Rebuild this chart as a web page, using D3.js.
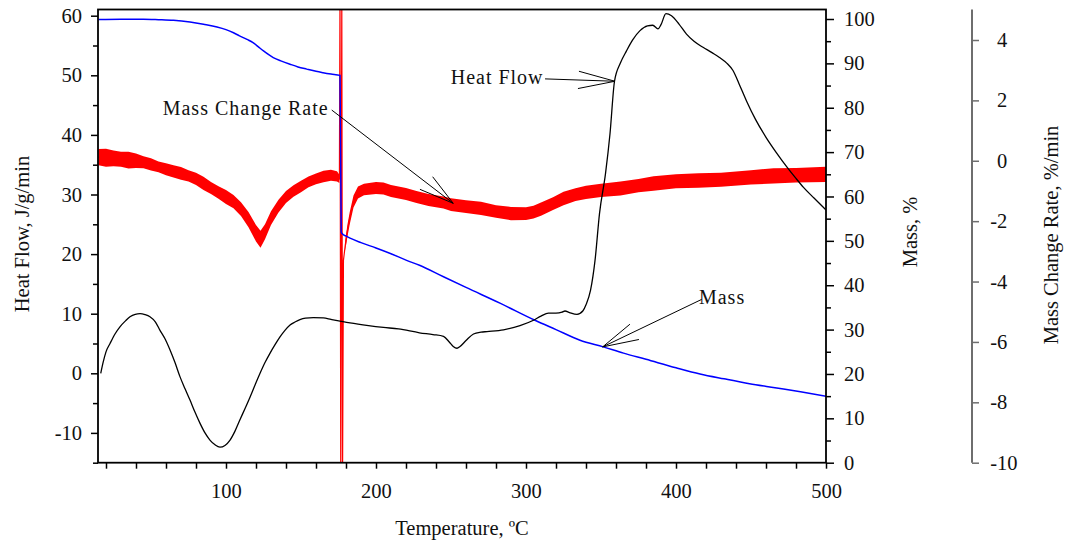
<!DOCTYPE html>
<html><head><meta charset="utf-8">
<script src="https://cdn.jsdelivr.net/npm/d3@7"></script>
<style>
body{margin:0;background:#fff}
svg{display:block}
text{font-family:"Liberation Serif","Times New Roman",serif;fill:#111}
</style>
</head><body>
<svg id="c" width="1065" height="544"></svg>
<script>
// ---------- data ----------
const heatTemp = [16.5,18.2,20,22.7,26,29.3,33,36,39.5,42.7,46,49.3,53,56,59.5,62.7,66,69.3,72.7,76,79.3,82.7,86,89.3,92.7,96,99.3,102.7,106,109.3,112.7,116,119.3,122.7,126,129.3,132.7,136,139.3,142.7,146,149.3,153,158.2,164.9,170,176,182.7,195,205,215,229,238,245,249,251.5,254,256,260,265,270,274,285,296,305,310,315,320,324,326,329,334,338,340,343,346,349,353,356,359,363,367,371,376,381,384.5,388,390,393.3,397,402,407,412,418,424,429,434,438,442,447,453,460,467,474,480,485,492,500];
const heatFlow = [0,1.95,3.6,5.0,6.6,7.8,8.8,9.5,9.9,10.0,9.85,9.5,8.6,7.2,5.7,3.9,1.8,-0.56,-2.6,-4.5,-6.5,-8.4,-10.0,-11.2,-12.0,-12.4,-12.1,-11.2,-9.7,-7.8,-5.9,-4.0,-2.0,0.0,1.8,3.35,4.8,6.1,7.2,8.1,8.6,9.0,9.25,9.35,9.3,9.05,8.76,8.45,8.0,7.7,7.45,6.8,6.5,6.2,5.2,4.5,4.2,4.5,5.5,6.6,6.9,7.0,7.3,8.0,8.9,9.6,10.1,10.1,10.25,10.45,10.2,9.9,10.5,11.5,13.9,18.9,26.8,33.5,40.2,49.0,52.1,54.1,55.9,57.5,58.3,58.4,57.8,58.5,60.35,60.0,58.6,56.9,55.7,54.7,53.8,53.0,52.0,50.8,48.6,45.7,42.6,39.6,37.0,34.6,32.7,31.2,29.4,27.4];

const massTemp = [15,30,45,55,65,76,85,94,100,105,109,114,118,122,125,131.5,137,142.7,148,153.8,160,164.7,170,176,176.8,177.5,180.4,182.7,190,200,210,220.4,229,245,260,283,306,320,336,351.5,365,380,400,416,432,449,466,483,500];
const massPct = [99.9,99.95,99.95,99.85,99.7,99.3,98.8,98.2,97.6,96.9,96.2,95.4,94.7,93.6,92.8,91.3,90.5,89.8,89.2,88.7,88.2,87.9,87.6,87.3,52.0,51.6,51.0,50.6,49.6,48.4,47.1,45.6,44.5,41.9,39.5,35.9,32.1,30.0,27.6,26.1,24.7,23.3,21.4,20.0,18.9,17.8,16.9,16.0,15.0];

const rateTemp = [15,20,25,30,35,40,45,50,55,60,65,70,75,80,85,90,95,100,105,110,115,120,123,126,130,135,140,145,150,155,160,165,170,174,175.6,176.0,176.5,177.2,177.7,178.3,179.5,181,182.5,185,188,192,200,205,210,215,220,227,235,245,250,260,270,280,290,300,305,310,318,325,333,340,350,363,375,385,400,415,430,450,465,480,500];
const rateMid = [0.12,0.1,0.08,0.05,0.02,0.0,-0.05,-0.12,-0.2,-0.28,-0.35,-0.42,-0.5,-0.6,-0.75,-0.9,-1.05,-1.2,-1.35,-1.6,-1.95,-2.4,-2.6,-2.35,-1.9,-1.5,-1.2,-1.0,-0.85,-0.7,-0.6,-0.52,-0.48,-0.52,-0.6,5.5,-10.5,5.5,-10.5,-3.3,-2.8,-2.3,-1.9,-1.35,-1.05,-0.95,-0.9,-0.92,-1.0,-1.05,-1.1,-1.2,-1.3,-1.38,-1.45,-1.52,-1.58,-1.68,-1.75,-1.75,-1.7,-1.6,-1.42,-1.25,-1.12,-1.05,-0.98,-0.92,-0.82,-0.75,-0.68,-0.65,-0.63,-0.55,-0.5,-0.48,-0.45];
const rateSpread = [0.27,0.3,0.26,0.25,0.28,0.24,0.2,0.2,0.18,0.2,0.2,0.21,0.19,0.2,0.22,0.2,0.21,0.23,0.22,0.23,0.25,0.27,0.28,0.25,0.23,0.21,0.2,0.19,0.19,0.18,0.18,0.19,0.18,0.17,0.14,0,0,0,0,0,0.17,0.2,0.2,0.2,0.2,0.19,0.2,0.2,0.2,0.2,0.2,0.2,0.2,0.2,0.21,0.21,0.22,0.21,0.22,0.21,0.21,0.22,0.21,0.22,0.21,0.22,0.22,0.23,0.22,0.24,0.23,0.24,0.23,0.24,0.25,0.24,0.25];

const xMajor = [100,200,300,400,500];
const xMinor = [20,40,60,80,120,140,160,180,220,240,260,280,320,340,360,380,420,440,460,480];
const heatMajor = [-10,0,10,20,30,40,50,60];
const heatMinor = [-15,-5,5,15,25,35,45,55];
const massMajor = [0,10,20,30,40,50,60,70,80,90,100];
const massMinor = [5,15,25,35,45,55,65,75,85,95];
const rateMajor = [-10,-8,-6,-4,-2,0,2,4];

// annotations: label anchor, line start, arrow tip (data units)
const annHeat = {text:"Heat Flow", tx:249.8, ty:48.5, sx:312.7, sy:49.4, px:359.3, py:49.0};
const annRate = {text:"Mass Change Rate", tx:57.8, ty:1.52, sx:170.5, sy:1.68, px:251.5, py:-1.41};
const annMass = {text:"Mass", tx:415.3, ty:35.8, sx:417.1, sy:36.8, px:351.1, py:26.1};

// ---------- layout ----------
const L = 98, R = 826, T = 9.5, B = 462.7, RATEX = 972;
const svg = d3.select("#c");
const x = d3.scaleLinear().domain([14.67, 500]).range([L, R]);
const yHeat = d3.scaleLinear().domain([-15, 60]).range([B, 15.7]);
const yMass = d3.scaleLinear().domain([0, 100]).range([B, 19]);
const yRate = d3.scaleLinear().domain([-10, 4]).range([B, 40]);
const fmt = d => String(d);
const FS = "20.5px";

svg.append("defs").append("clipPath").attr("id","clip")
  .append("rect").attr("x",L).attr("y",T).attr("width",R-L).attr("height",B-T);

// ---------- series ----------
const plot = svg.append("g").attr("clip-path","url(#clip)");

const rateData = rateTemp.map((t,i)=>({t, m:rateMid[i], s:rateSpread[i]}));
plot.append("path").datum(rateData)
  .attr("fill","#ff0000")
  .attr("d", d3.area().defined(d=>d.s>0).x(d=>x(d.t)).y0(d=>yRate(d.m-d.s)).y1(d=>yRate(d.m+d.s)).curve(d3.curveLinear));
plot.append("path").datum(rateData)
  .attr("fill","none").attr("stroke","#ff0000").attr("stroke-width",1.2)
  .attr("d", d3.line().x(d=>x(d.t)).y(d=>yRate(d.m)));

const massData = massTemp.map((t,i)=>({t, v:massPct[i]}));
plot.append("path").datum(massData)
  .attr("fill","none").attr("stroke","#0000ff").attr("stroke-width",1.5)
  .attr("d", d3.line().x(d=>x(d.t)).y(d=>yMass(d.v)).curve(d3.curveMonotoneX));

const heatData = heatTemp.map((t,i)=>({t, v:heatFlow[i]}));
plot.append("path").datum(heatData)
  .attr("fill","none").attr("stroke","#000").attr("stroke-width",1.3)
  .attr("d", d3.line().x(d=>x(d.t)).y(d=>yHeat(d.v)).curve(d3.curveMonotoneX));

// ---------- axes ----------
function styleAxis(g, color){
  g.attr("font-family",null).attr("font-size",null);
  g.select(".domain").remove();
  g.selectAll(".tick line").attr("stroke", color).attr("stroke-width",1.5);
  g.selectAll(".tick text").style("font-size",FS).attr("fill","#111")
    .style("font-family",'"Liberation Serif","Times New Roman",serif');
}
// bottom
svg.append("g").attr("transform",`translate(0,${B})`)
  .call(d3.axisBottom(x).tickValues(xMinor).tickSize(6).tickFormat(""))
  .call(g=>styleAxis(g,"#000"));
svg.append("g").attr("transform",`translate(0,${B})`)
  .call(d3.axisBottom(x).tickValues(xMajor).tickSize(6).tickPadding(15).tickFormat(fmt))
  .call(g=>styleAxis(g,"#000"));
// left heat flow
svg.append("g").attr("transform",`translate(${L},0)`)
  .call(d3.axisLeft(yHeat).tickValues(heatMinor).tickSize(5).tickFormat(""))
  .call(g=>styleAxis(g,"#000"));
svg.append("g").attr("transform",`translate(${L},0)`)
  .call(d3.axisLeft(yHeat).tickValues(heatMajor).tickSize(7).tickPadding(9).tickFormat(fmt))
  .call(g=>styleAxis(g,"#000"));
// right mass
svg.append("g").attr("transform",`translate(${R},0)`)
  .call(d3.axisRight(yMass).tickValues(massMinor).tickSize(5).tickFormat(""))
  .call(g=>styleAxis(g,"#000"));
svg.append("g").attr("transform",`translate(${R},0)`)
  .call(d3.axisRight(yMass).tickValues(massMajor).tickSize(8).tickPadding(10).tickFormat(fmt))
  .call(g=>styleAxis(g,"#000"));
// far right rate
const rateG = svg.append("g").attr("transform",`translate(${RATEX},0)`)
  .call(d3.axisRight(yRate).tickValues(rateMajor).tickSize(7).tickPadding(18).tickFormat(fmt))
  .call(g=>styleAxis(g,"#6e6e6e"));
rateG.selectAll(".tick text").attr("dx", d => d<0 ? "-0.333em" : 0);
svg.append("line").attr("x1",RATEX).attr("x2",RATEX).attr("y1",T).attr("y2",B)
  .attr("stroke","#6e6e6e").attr("stroke-width",2);

// frame
const frame = svg.append("g").attr("stroke","#000").attr("stroke-width",1.8).attr("fill","none");
frame.append("rect").attr("x",L).attr("y",T).attr("width",R-L).attr("height",B-T);

// ---------- titles ----------
svg.append("text").attr("x",462).attr("y",535).attr("text-anchor","middle").style("font-size",FS)
  .text("Temperature, \u00baC");
svg.append("text").attr("transform","translate(29,234) rotate(-90)").attr("text-anchor","middle").style("font-size",FS)
  .text("Heat Flow, J/g/min");
svg.append("text").attr("transform","translate(917,232) rotate(-90)").attr("text-anchor","middle").style("font-size",FS)
  .text("Mass, %");
svg.append("text").attr("transform","translate(1058,235) rotate(-90)").attr("text-anchor","middle").style("font-size",FS)
  .text("Mass Change Rate, %/min");

// ---------- annotations ----------
function annotate(a, ys, barbs){
  svg.append("text").attr("x",x(a.tx)).attr("y",ys(a.ty))
    .style("font-size","20px").style("letter-spacing","1px").text(a.text);
  const px = x(a.px), py = ys(a.py);
  const g = svg.append("g").attr("stroke","#000").attr("stroke-width",1).attr("fill","none");
  g.append("line").attr("x1",x(a.sx)).attr("y1",ys(a.sy)).attr("x2",px).attr("y2",py);
  barbs.forEach(b => g.append("line").attr("x1",px).attr("y1",py).attr("x2",px+b[0]).attr("y2",py+b[1]));
}
annotate(annHeat, yHeat, [[-36,-10],[-37,7.3]]);
annotate(annRate, yRate, [[-20.6,-26.6],[-33.3,-14]]);
annotate(annMass, yMass, [[27.3,-22.7],[36.3,-7.4]]);
</script>
</body></html>
